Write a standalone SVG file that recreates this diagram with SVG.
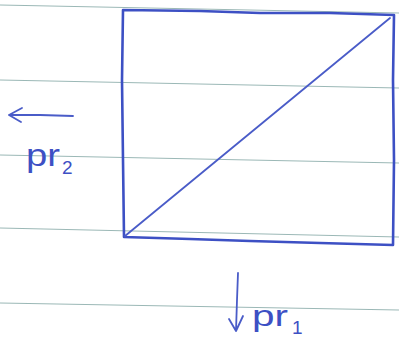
<svg xmlns="http://www.w3.org/2000/svg" width="399" height="340" viewBox="0 0 399 340">
  <defs>
    <style>
      .rule { stroke: #9bb8b6; stroke-width: 1.2; fill: none; }
      .ink { stroke: #3d50c4; stroke-width: 2.6; fill: none; stroke-linecap: round; stroke-linejoin: round; }
      .thin { stroke: #4a5cc8; stroke-width: 1.8; fill: none; stroke-linecap: round; stroke-linejoin: round; }
      .lbl { font-family: "Liberation Sans", "DejaVu Sans", sans-serif; fill: #3d50c4; }
    </style>
  </defs>
  <rect width="399" height="340" fill="#ffffff"/>
  <g id="paper-lines">
    <path class="rule" d="M0 5 L399 13"/>
    <path class="rule" d="M0 80 L399 88"/>
    <path class="rule" d="M0 155 L399 163"/>
    <path class="rule" d="M0 228 L399 237"/>
    <path class="rule" d="M0 303 L399 310"/>
  </g>
  <g id="rectangle">
    <path class="ink" d="M123 10 L200 11 L260 13 L330 13 L394 15 L393 80 L394 160 L393 245 L320 243 L250 241 L190 239 L124 237 L123 160 L122 80 Z"/>
  </g>
  <g id="connectors">
    <path class="thin" d="M125 236 L390 18"/>
    <path class="thin" d="M73 116 L40 115 L9 115 M22 108 L9 115 L21 122"/>
    <path class="thin" d="M238 273 L237 300 L236 331 M229 319 L236 331 L243 316"/>
  </g>
  <g id="label-pr2">
    <text class="lbl" x="26" y="166" font-size="32" textLength="34" lengthAdjust="spacingAndGlyphs">pr</text>
    <text class="lbl" x="62" y="174" font-size="19">2</text>
  </g>
  <g id="label-pr1">
    <text class="lbl" x="252" y="326" font-size="30" textLength="36" lengthAdjust="spacingAndGlyphs">pr</text>
    <text class="lbl" x="292" y="334" font-size="19">1</text>
  </g>
</svg>
